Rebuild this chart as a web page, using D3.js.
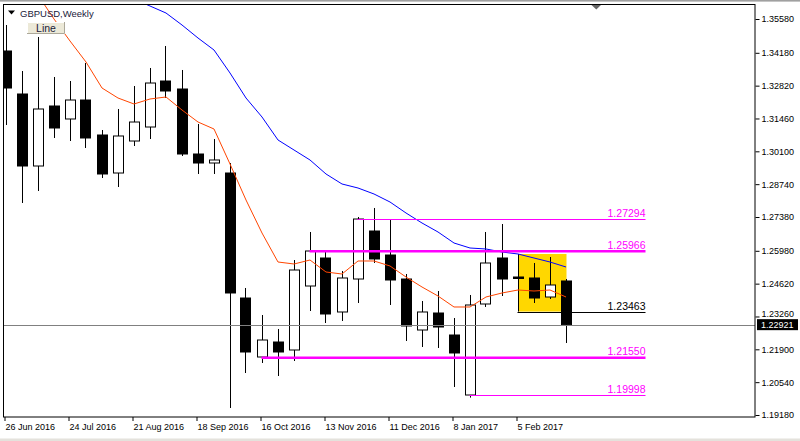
<!DOCTYPE html>
<html>
<head>
<meta charset="utf-8">
<script src="https://cdn.jsdelivr.net/npm/d3@7"></script>
<style>
  html, body { margin: 0; padding: 0; background: #fff; }
  svg { display: block; font-family: "Liberation Sans", Arial, sans-serif; }
</style>
</head>
<body>
<svg id="chart" width="800" height="441"></svg>
<script>
// weekly bars, GBPUSD
const weeks = ["2016-06-26","2016-07-03","2016-07-10","2016-07-17","2016-07-24","2016-07-31","2016-08-07","2016-08-14","2016-08-21","2016-08-28",
  "2016-09-04","2016-09-11","2016-09-18","2016-09-25","2016-10-02","2016-10-09","2016-10-16","2016-10-23","2016-10-30","2016-11-06",
  "2016-11-13","2016-11-20","2016-11-27","2016-12-04","2016-12-11","2016-12-18","2016-12-25","2017-01-01","2017-01-08","2017-01-15",
  "2017-01-22","2017-01-29","2017-02-05","2017-02-12","2017-02-19","2017-02-26"];
const open = [1.34255,1.32474,1.29492,1.31977,1.31439,1.32225,1.30776,1.29202,1.30527,1.31107,
  1.33012,1.32681,1.29989,1.29616,1.29202,1.24025,1.21582,1.22203,1.21872,1.24522,
  1.25682,1.23446,1.24812,1.26800,1.25806,1.24812,1.22700,1.23404,1.22493,1.20008,
  1.23777,1.25682,1.24895,1.24854,1.24067,1.24730];
const high = [1.35331,1.33426,1.34835,1.33178,1.33012,1.33758,1.30983,1.31853,1.32805,1.33551,
  1.34462,1.33468,1.31232,1.30610,1.29616,1.24440,1.23321,1.22742,1.25599,1.26759,
  1.25972,1.25144,1.27380,1.27753,1.27297,1.25019,1.23901,1.24315,1.23197,1.24150,
  1.26759,1.27090,1.24916,1.25475,1.25723,1.24812];
const low = [1.31190,1.27960,1.28457,1.30652,1.30527,1.30238,1.28995,1.28622,1.30320,1.30610,
  1.32308,1.29906,1.29161,1.29161,1.19470,1.20919,1.21334,1.20795,1.21416,1.23487,
  1.22990,1.23073,1.23818,1.25475,1.23736,1.22245,1.21996,1.21955,1.20340,1.19900,
  1.23653,1.24108,1.24812,1.23818,1.23984,1.22162];
const close = [1.32722,1.29492,1.31853,1.31066,1.32225,1.30652,1.29161,1.30735,1.31314,1.32929,
  1.32598,1.29989,1.29616,1.29741,1.24233,1.21789,1.22286,1.21789,1.25185,1.25972,
  1.23363,1.24854,1.27297,1.25641,1.24771,1.22866,1.23446,1.22824,1.21748,1.23736,
  1.25475,1.24812,1.24833,1.24025,1.24564,1.22921];
// moving averages (red fast, blue slow)
const maFast = [1.38355,1.37526,1.36574,1.35580,1.34669,1.33799,1.32722,1.32308,1.32060,1.32267,
  1.32350,1.31811,1.31314,1.31024,1.29575,1.28084,1.26717,1.25516,1.25434,1.25599,
  1.25102,1.25019,1.25558,1.25558,1.25351,1.24895,1.24481,1.24108,1.23653,1.23653,
  1.24067,1.24233,1.24357,1.24315,1.24357,1.24067];
const maSlow = [1.37858,1.37692,1.37526,1.37361,1.37195,1.37029,1.36864,1.36657,1.36408,1.36118,
  1.35828,1.35331,1.34793,1.34296,1.33344,1.32308,1.31521,1.30569,1.30155,1.29741,
  1.29161,1.28747,1.28581,1.28333,1.28001,1.27546,1.27131,1.26759,1.26303,1.26096,
  1.26055,1.25930,1.25848,1.25682,1.25516,1.25309];

const priceTicks = [1.3558,1.3418,1.3282,1.3146,1.3010,1.2874,1.2738,1.2598,1.2462,1.2326,1.2190,1.2054,1.1918];
const dateTicks = ["2016-06-26","2016-07-24","2016-08-21","2016-09-18","2016-10-16","2016-11-13","2016-12-11","2017-01-08","2017-02-05"];

// horizontal levels drawn on the chart
const levelPrices = [1.27294, 1.25966, 1.23463, 1.21550, 1.19998];
const levelFrom = ["2016-11-27", "2016-11-06", "2017-02-05", "2016-10-16", "2017-01-15"];
const levelTo = "2017-04-02";
// highlighted box
const boxTime = ["2017-02-05", "2017-02-26"];
const boxPrice = [1.25848, 1.23463];

const lastPrice = 1.22921;
const symbol = "GBPUSD,Weekly";

const parse = d3.utcParse("%Y-%m-%d");
const bars = weeks.map((w, i) => ({
  t: parse(w), o: open[i], h: high[i], l: low[i], c: close[i], fast: maFast[i], slow: maSlow[i]
}));

let dimensions = {
  width: 800,
  height: 441,
  left: 4, right: 755, top: 4.5, bottom: 417
};

const svg = d3.select("#chart");

/** background bits of the terminal window */
svg.append("rect").attr("x", 0).attr("y", 0).attr("width", 800).attr("height", 441).attr("fill", "#fff");
svg.append("rect").attr("x", 0).attr("y", 0).attr("width", 800).attr("height", 1.6).attr("fill", "#a0a0a0");
svg.append("rect").attr("x", 0).attr("y", 438.5).attr("width", 800).attr("height", 3).attr("fill", "#e4e2dc");

/** scales */
const xScale = d3.scaleUtc()
  .domain([bars[0].t, bars[bars.length - 1].t])
  .range([5.5, 5.5 + 16 * (bars.length - 1)]);

const yScale = d3.scaleLinear()
  .domain([1.1918, 1.3558])
  .range([415, 19]);

const px = v => Math.round(v) + 0.5;

svg.append("clipPath").attr("id", "plot-clip")
  .append("rect")
  .attr("x", dimensions.left).attr("y", dimensions.top)
  .attr("width", dimensions.right - dimensions.left)
  .attr("height", dimensions.bottom - dimensions.top);

const plot = svg.append("g").attr("clip-path", "url(#plot-clip)");

/** title */
svg.append("path")
  .attr("d", "M8,10.5 L15,10.5 L11.5,14.5 Z")
  .attr("fill", "#000");
svg.append("text")
  .attr("x", 20).attr("y", 16.5)
  .attr("font-size", 9.5)
  .attr("fill", "#1a1a3a")
  .text(symbol);

/** yellow box */
plot.append("rect")
  .attr("x", px(xScale(parse(boxTime[0]))))
  .attr("y", yScale(boxPrice[0]))
  .attr("width", xScale(parse(boxTime[1])) - xScale(parse(boxTime[0])))
  .attr("height", yScale(boxPrice[1]) - yScale(boxPrice[0]))
  .attr("fill", "#ffd700");
plot.append("line")
  .attr("x1", px(xScale(parse(boxTime[0])))).attr("x2", px(xScale(parse(boxTime[0]))))
  .attr("y1", yScale(boxPrice[0])).attr("y2", yScale(boxPrice[1]))
  .attr("stroke", "#000").attr("stroke-width", 1);

/** candles */
const candles = plot.append("g").attr("class", "candles");
candles.selectAll("line")
  .data(bars)
  .join("line")
  .attr("x1", d => px(xScale(d.t)))
  .attr("x2", d => px(xScale(d.t)))
  .attr("y1", d => yScale(d.h))
  .attr("y2", d => yScale(d.l))
  .attr("stroke", "#000")
  .attr("stroke-width", 1);

candles.selectAll("rect")
  .data(bars)
  .join("rect")
  .attr("x", d => px(xScale(d.t)) - 5)
  .attr("width", 10)
  .attr("y", d => yScale(Math.max(d.o, d.c)))
  .attr("height", d => Math.max(1, Math.abs(yScale(d.o) - yScale(d.c))))
  .attr("fill", d => d.c >= d.o ? "#fff" : "#000")
  .attr("stroke", "#000")
  .attr("stroke-width", 1);

/** moving averages */
const maLine = key => d3.line().x(d => xScale(d.t) + 0.5).y(d => yScale(d[key]));
plot.append("path").datum(bars)
  .attr("d", maLine("fast"))
  .attr("fill", "none").attr("stroke", "#ff4500").attr("stroke-width", 1);
plot.append("path").datum(bars)
  .attr("d", maLine("slow"))
  .attr("fill", "none").attr("stroke", "#0000ff").attr("stroke-width", 1);

/** horizontal levels */
const levelStyle = [
  {color: "#ff00ff", width: 1},
  {color: "#ff00ff", width: 2.5},
  {color: "#000000", width: 1},
  {color: "#ff00ff", width: 2.5},
  {color: "#ff00ff", width: 1}
];
const levelGroup = plot.append("g").attr("class", "levels");
levelPrices.forEach((p, i) => {
  const y0 = levelStyle[i].width > 1 ? yScale(p) : px(yScale(p));
  const xEnd = xScale(parse(levelTo));
  levelGroup.append("line")
    .attr("x1", xScale(parse(levelFrom[i])))
    .attr("x2", xEnd)
    .attr("y1", y0).attr("y2", y0)
    .attr("stroke", levelStyle[i].color)
    .attr("stroke-width", levelStyle[i].width);
  levelGroup.append("text")
    .attr("x", xEnd)
    .attr("y", y0 - 2.5)
    .attr("text-anchor", "end")
    .attr("font-size", 10.5)
    .attr("fill", levelStyle[i].color)
    .text(d3.format(".5f")(p));
});

/** last price line */
plot.append("line")
  .attr("x1", dimensions.left).attr("x2", dimensions.right)
  .attr("y1", px(yScale(lastPrice))).attr("y2", px(yScale(lastPrice)))
  .attr("stroke", "#808080").attr("stroke-width", 1);

/** line button */
const btn = svg.append("g").attr("transform", "translate(27,22)");
btn.append("rect").attr("width", 38).attr("height", 12).attr("fill", "#ece9d8");
btn.append("path").attr("d", "M0.5,12 L0.5,0.5 L38,0.5").attr("fill", "none").attr("stroke", "#fff");
btn.append("path").attr("d", "M0,11.5 L37.5,11.5 L37.5,0").attr("fill", "none").attr("stroke", "#aca899");
btn.append("text")
  .attr("x", 19).attr("y", 9.8)
  .attr("text-anchor", "middle")
  .attr("font-size", 10.5)
  .attr("fill", "#1a1a3a")
  .text("Line");

/** frame */
svg.append("rect")
  .attr("x", 3.5).attr("y", dimensions.top)
  .attr("width", dimensions.right - 3.5)
  .attr("height", dimensions.bottom - dimensions.top)
  .attr("fill", "none").attr("stroke", "#000").attr("stroke-width", 1);

/** chart shift marker */
svg.append("path")
  .attr("d", "M591.5,5 L601,5 L596.3,9.5 Z")
  .attr("fill", "#666");

/** price axis */
const lastY = yScale(lastPrice);
const yAxisGroup = svg.append("g")
  .attr("transform", `translate(${dimensions.right + 0.5},0)`)
  .call(d3.axisRight(yScale).tickValues(priceTicks).tickFormat(d3.format(".5f")).tickSize(4).tickPadding(2))
  .call(g => g.select(".domain").remove())
  .call(g => g.selectAll("text")
    .attr("font-size", 9)
    .attr("font-family", "Liberation Sans, Arial, sans-serif")
    .attr("fill", "#000")
    // the tick label sitting just above the price tag gets pushed up a little
    .attr("y", d => (yScale(d) < lastY && lastY - yScale(d) < 11) ? -(11 - (lastY - yScale(d))) : 0));

/** last price tag */
svg.append("rect")
  .attr("x", 757).attr("y", lastY - 5.5)
  .attr("width", 41).attr("height", 11)
  .attr("fill", "#000");
svg.append("text")
  .attr("x", 761).attr("y", lastY + 3.5)
  .attr("font-size", 9)
  .attr("fill", "#fff")
  .text(d3.format(".5f")(lastPrice));

/** time axis */
const xAxisGroup = svg.append("g")
  .attr("transform", `translate(0,${dimensions.bottom})`)
  .call(d3.axisBottom(xScale)
    .tickValues(dateTicks.map(parse))
    .tickFormat(d3.utcFormat("%-d %b %Y"))
    .tickSize(4).tickPadding(3))
  .call(g => g.select(".domain").remove())
  .call(g => g.selectAll(".tick line").attr("transform", "translate(-1,0)"))
  .call(g => g.selectAll("text")
    .attr("text-anchor", "start")
    .attr("dx", -0.5)
    .attr("font-size", 9)
    .attr("font-family", "Liberation Sans, Arial, sans-serif")
    .attr("fill", "#000"));
</script>
</body>
</html>
